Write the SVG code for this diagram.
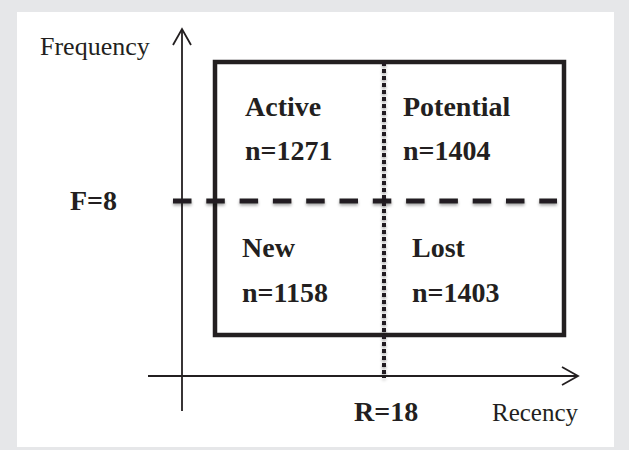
<svg xmlns="http://www.w3.org/2000/svg" width="629" height="450" viewBox="0 0 629 450">
  <style>
    .lbl { font-family: "Liberation Serif", "Times New Roman", serif; fill: #231f20; }
    .b { font-weight: bold; font-size: 28px; }
    .r { font-size: 26px; }
    .axis { stroke: #231f20; stroke-width: 1.8; fill: none; }
    .head { stroke: #231f20; stroke-width: 1.8; fill: none; stroke-linejoin: miter; }
  </style>
  <defs>
    <filter id="sh" filterUnits="userSpaceOnUse" x="0" y="0" width="629" height="450">
      <feDropShadow dx="0" dy="2" stdDeviation="1.5" flood-color="#000" flood-opacity="0.35"/>
    </filter>
  </defs>
  <rect x="0" y="0" width="629" height="450" fill="#e6e7e9"/>
  <rect x="17" y="12" width="597" height="435" fill="#ffffff"/>

  <g id="axes">
    <line class="axis" x1="182" y1="29" x2="182" y2="411"/>
    <polyline class="head" points="173,45 182,29 191,45"/>
    <line class="axis" x1="148" y1="376" x2="578" y2="376"/>
    <polyline class="head" points="562,367 578,376 562,385"/>
  </g>

  <g id="quadrants-box">
    <rect x="215" y="62" width="349" height="273" fill="none" stroke="#231f20" stroke-width="4.5"/>
  </g>

  <g id="connectors">
    <line x1="173" y1="201" x2="557" y2="201" stroke="#231f20" stroke-width="5" stroke-dasharray="18.5 14.8" filter="url(#sh)"/>
    <line x1="384" y1="62" x2="384" y2="378" stroke="#231f20" stroke-width="4" stroke-dasharray="4 3" filter="url(#sh)"/>
  </g>

  <g id="active">
    <text class="lbl b" x="245" y="116">Active</text>
    <text class="lbl b" x="245" y="160">n=1271</text>
  </g>
  <g id="potential">
    <text class="lbl b" x="403" y="116">Potential</text>
    <text class="lbl b" x="403" y="160">n=1404</text>
  </g>
  <g id="new">
    <text class="lbl b" x="242" y="257">New</text>
    <text class="lbl b" x="242" y="302">n=1158</text>
  </g>
  <g id="lost">
    <text class="lbl b" x="412" y="257">Lost</text>
    <text class="lbl b" x="412" y="302">n=1403</text>
  </g>

  <g id="axis-labels">
    <text class="lbl r" x="40" y="55">Frequency</text>
    <text class="lbl b" x="70" y="210">F=8</text>
    <text class="lbl b" x="354" y="421">R=18</text>
    <text class="lbl" font-size="25" x="492" y="421">Recency</text>
  </g>
</svg>
